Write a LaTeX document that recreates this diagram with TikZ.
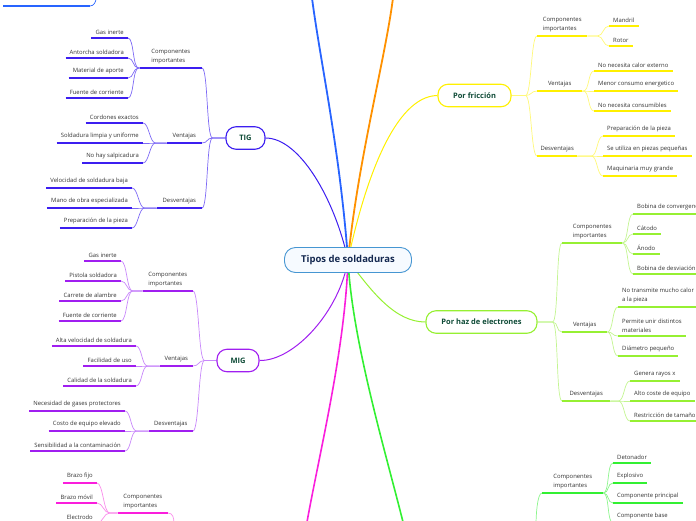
\documentclass[tikz,border=0pt]{standalone}
\usepackage{fontspec}
\setmainfont{Open Sans}
\usetikzlibrary{backgrounds}
\definecolor{tigcol}{RGB}{60,30,240}
\definecolor{tiglt}{RGB}{125,105,245}
\definecolor{migcol}{RGB}{160,30,240}
\definecolor{miglt}{RGB}{200,135,250}
\definecolor{friccol}{RGB}{255,240,0}
\definecolor{friclt}{RGB}{255,248,120}
\definecolor{hazcol}{RGB}{150,240,50}
\definecolor{hazlt}{RGB}{195,245,145}
\definecolor{grncol}{RGB}{50,240,50}
\definecolor{grnlt}{RGB}{140,245,140}
\definecolor{magcol}{RGB}{250,30,220}
\definecolor{maglt}{RGB}{250,140,235}
\definecolor{blucol}{RGB}{40,100,255}
\definecolor{orgcol}{RGB}{255,145,0}
\definecolor{rootcol}{RGB}{70,150,210}
\definecolor{rootfill}{RGB}{246,250,255}
\definecolor{topictext}{RGB}{15,75,55}
\definecolor{roottext}{RGB}{20,40,80}
\begin{document}
\begin{tikzpicture}[x=1pt,y=-1pt,
  root/.style={draw=rootcol,fill=rootfill,line width=.9pt,rounded corners=11pt,
    minimum width=127pt,minimum height=25pt,text=roottext,
    font=\fontsize{9.5}{11}\selectfont\bfseries},
  topic/.style={draw=#1,fill=white,line width=1.1pt,rounded corners=10pt,
    minimum height=22.5pt,text=topictext,font=\fontsize{7.5}{9}\selectfont\bfseries},
  txt/.style={font=\fontsize{5.9}{9}\selectfont,text=black!80,align=left,inner ysep=3.5pt},
  ul/.style={append after command={(\tikzlastnode.south west) edge[draw=#1,line width=1.3pt] (\tikzlastnode.south east)}},
  subl/.style={txt,ul=#1,anchor=south east,inner xsep=0pt},
  subr/.style={txt,ul=#1,anchor=south west,inner xsep=0pt},
  leafl/.style={txt,ul=#1,anchor=south east,inner xsep=4pt},
  leafr/.style={txt,ul=#1,anchor=south west,inner xsep=4pt},
  lk/.style={draw=#1,line width=.7pt},
  lfork/.style={to path={-- ++(-#1,0) .. controls +(-6,0) and +(6,0) .. (\tikztotarget)}},
  rfork/.style={to path={-- ++(#1,0) .. controls +(6,0) and +(-6,0) .. (\tikztotarget)}}]
\useasboundingbox (0,0) rectangle (696,520);
\node[root] (root) at (348,260) {Tipos de soldaduras};
\node[topic=tigcol,minimum width=39pt] (tig) at (245.5,138) {TIG};
\node[topic=migcol,minimum width=42pt] (mig) at (238,360.5) {MIG};
\node[topic=friccol,minimum width=73pt] (fric) at (474.5,95.5) {Por fricción};
\node[topic=hazcol,minimum width=111pt] (haz) at (481.5,322) {Por haz de electrones};
\coordinate (topB) at (312,-2);
\coordinate (topO) at (393,-2);
\coordinate (botM) at (307,522);
\coordinate (botG) at (403,522);
% TIG
\node[subl=tigcol,minimum width=62pt] (tigA) at (202,68) {Componentes\\importantes};
\node[subl=tigcol,minimum width=35pt] (tigB) at (202,143) {Ventajas};
\node[subl=tigcol,minimum width=45pt] (tigC) at (202,208) {Desventajas};
\node[leafl=tigcol] (tigA1) at (128,38) {Gas inerte};
\node[leafl=tigcol] (tigA2) at (128,58) {Antorcha soldadora};
\node[leafl=tigcol] (tigA3) at (128,78) {Material de aporte};
\node[leafl=tigcol] (tigA4) at (128,98) {Fuente de corriente};
\node[leafl=tigcol] (tigB1) at (143,123) {Cordones exactos};
\node[leafl=tigcol] (tigB2) at (143,143) {Soldadura limpia y uniforme};
\node[leafl=tigcol] (tigB3) at (143,163) {No hay salpicadura};
\node[leafl=tigcol] (tigC1) at (132,188) {Velocidad de soldadura baja};
\node[leafl=tigcol] (tigC2) at (132,208) {Mano de obra especializada};
\node[leafl=tigcol] (tigC3) at (132,228) {Preparación de la pieza};
% MIG
\node[subl=migcol,minimum width=50pt] (migA) at (193,291) {Componentes\\importantes};
\node[subl=migcol,minimum width=33pt] (migB) at (193,366) {Ventajas};
\node[subl=migcol,minimum width=44pt] (migC) at (193,431) {Desventajas};
\node[leafl=migcol] (migA1) at (121,261) {Gas inerte};
\node[leafl=migcol] (migA2) at (121,281) {Pistola soldadora};
\node[leafl=migcol] (migA3) at (121,301) {Carrete de alambre};
\node[leafl=migcol] (migA4) at (121,321) {Fuente de corriente};
\node[leafl=migcol] (migB1) at (136,346) {Alta velocidad de soldadura};
\node[leafl=migcol] (migB2) at (136,366) {Facilidad de uso};
\node[leafl=migcol] (migB3) at (136,386) {Calidad de la soldadura};
\node[leafl=migcol] (migC1) at (125,411) {Necesidad de gases protectores};
\node[leafl=migcol] (migC2) at (125,431) {Costo de equipo elevado};
\node[leafl=migcol] (migC3) at (125,451) {Sensibilidad a la contaminación};
% lower left
\node[subl=magcol,minimum width=50pt] (magA) at (168,513) {Componentes\\importantes};
\node[leafl=magcol] (magA1) at (97,483) {Brazo fijo};
\node[leafl=magcol] (magA2) at (97,503) {Brazo móvil};
\node[leafl=magcol] (magA3) at (97,523) {Electrodo};
\coordinate (mag0) at (174,524);
% upper left
\coordinate (blu1) at (3,6);
\coordinate (blu2) at (90,6);
\coordinate (blu0) at (96,-2);
\draw[blucol,line width=1.3pt] (blu1) -- (blu2);
% Por friccion
\node[subr=friccol,minimum width=50pt] (fricA) at (537,36) {Componentes\\importantes};
\node[subr=friccol,minimum width=45pt] (fricB) at (537,91) {Ventajas};
\node[subr=friccol,minimum width=40pt] (fricC) at (537,156) {Desventajas};
\node[leafr=friccol] (fricA1) at (609,26) {Mandril};
\node[leafr=friccol] (fricA2) at (609,46) {Rotor};
\node[leafr=friccol] (fricB1) at (594,71) {No necesita calor externo};
\node[leafr=friccol] (fricB2) at (594,91) {Menor consumo energetico};
\node[leafr=friccol] (fricB3) at (594,111) {No necesita consumibles};
\node[leafr=friccol] (fricC1) at (603,136) {Preparación de la pieza};
\node[leafr=friccol] (fricC2) at (603,156) {Se utiliza en piezas pequeñas};
\node[leafr=friccol] (fricC3) at (603,176) {Maquinaria muy grande};
% Por haz de electrones
\node[subr=hazcol,minimum width=60pt] (hazA) at (562,243) {Componentes\\importantes};
\node[subr=hazcol,minimum width=45pt] (hazB) at (562,332) {Ventajas};
\node[subr=hazcol,minimum width=48pt] (hazC) at (562,401) {Desventajas};
\node[leafr=hazcol] (hazA1) at (633,214) {Bobina de convergencia};
\node[leafr=hazcol] (hazA2) at (633,234) {Cátodo};
\node[leafr=hazcol] (hazA3) at (633,254) {Ánodo};
\node[leafr=hazcol] (hazA4) at (633,274) {Bobina de desviación};
\node[leafr=hazcol] (hazB1) at (618,307) {No transmite mucho calor\\a la pieza};
\node[leafr=hazcol] (hazB2) at (618,336) {Permite unir distintos\\materiales};
\node[leafr=hazcol] (hazB3) at (618,356) {Diámetro pequeño};
\node[leafr=hazcol] (hazC1) at (630,381) {Genera rayos x};
\node[leafr=hazcol] (hazC2) at (630,401) {Alto coste de equipo};
\node[leafr=hazcol] (hazC3) at (630,421) {Restricción de tamaño};
% lower right
\node[subr=grncol,minimum width=61pt] (grnA) at (542,493) {Componentes\\importantes};
\node[leafr=grncol] (grnA1) at (613,463) {Detonador};
\node[leafr=grncol] (grnA2) at (613,483) {Explosivo};
\node[leafr=grncol] (grnA3) at (613,503) {Componente principal};
\node[leafr=grncol] (grnA4) at (613,523) {Componente base};
\coordinate (grn0) at (536,524);
\begin{scope}[on background layer]
\draw[blucol,line width=1.8pt] (root.center) .. controls (340,150) and (320,60) .. (topB);
\draw[orgcol,line width=1.8pt] (root.center) .. controls (358,160) and (385,60) .. (topO);
\draw[magcol,line width=1.6pt] (root.center) .. controls (345,350) and (320,450) .. (botM);
\draw[grncol,line width=1.6pt] (root.center) .. controls (352,340) and (385,450) .. (botG);
\draw[tigcol,line width=1pt] (root.center) .. controls (335,200) and (300,138) .. (tig.east);
\draw[friccol,line width=1pt] (root.center) .. controls (365,180) and (395,96) .. (fric.west);
\draw[migcol,line width=1pt] (root.center) .. controls (340,310) and (295,361) .. (mig.east);
\draw[hazcol,line width=1pt] (root.center) .. controls (372,292) and (395,322) .. (haz.west);
\draw[lk=tiglt] (tig.west) to[lfork=13] (tigA.south east);
\draw[lk=tiglt] (tig.west) to[lfork=13] (tigB.south east);
\draw[lk=tiglt] (tig.west) to[lfork=13] (tigC.south east);
\draw[lk=tiglt] (tigA.south west) to[lfork=1] (tigA1.south east);
\draw[lk=tiglt] (tigA.south west) to[lfork=1] (tigA2.south east);
\draw[lk=tiglt] (tigA.south west) to[lfork=1] (tigA3.south east);
\draw[lk=tiglt] (tigA.south west) to[lfork=1] (tigA4.south east);
\draw[lk=tiglt] (tigB.south west) to[lfork=11] (tigB1.south east);
\draw[lk=tiglt] (tigB.south west) to[lfork=11] (tigB2.south east);
\draw[lk=tiglt] (tigB.south west) to[lfork=11] (tigB3.south east);
\draw[lk=tiglt] (tigC.south west) to[lfork=12] (tigC1.south east);
\draw[lk=tiglt] (tigC.south west) to[lfork=12] (tigC2.south east);
\draw[lk=tiglt] (tigC.south west) to[lfork=12] (tigC3.south east);
\draw[lk=miglt] (mig.west) to[lfork=12] (migA.south east);
\draw[lk=miglt] (mig.west) to[lfork=12] (migB.south east);
\draw[lk=miglt] (mig.west) to[lfork=12] (migC.south east);
\draw[lk=miglt] (migA.south west) to[lfork=10] (migA1.south east);
\draw[lk=miglt] (migA.south west) to[lfork=10] (migA2.south east);
\draw[lk=miglt] (migA.south west) to[lfork=10] (migA3.south east);
\draw[lk=miglt] (migA.south west) to[lfork=10] (migA4.south east);
\draw[lk=miglt] (migB.south west) to[lfork=12] (migB1.south east);
\draw[lk=miglt] (migB.south west) to[lfork=12] (migB2.south east);
\draw[lk=miglt] (migB.south west) to[lfork=12] (migB3.south east);
\draw[lk=miglt] (migC.south west) to[lfork=12] (migC1.south east);
\draw[lk=miglt] (migC.south west) to[lfork=12] (migC2.south east);
\draw[lk=miglt] (migC.south west) to[lfork=12] (migC3.south east);
\draw[lk=maglt] (magA.south west) to[lfork=8] (magA1.south east);
\draw[lk=maglt] (magA.south west) to[lfork=8] (magA2.south east);
\draw[lk=maglt] (magA.south west) to[lfork=8] (magA3.south east);
\draw[lk=maglt] (magA.south east) .. controls +(5,0) and +(0,-6) .. (mag0);
\draw[lk=blucol] (blu2) .. controls +(4,0) and +(0,4) .. (blu0);
\draw[lk=friclt] (fric.east) to[rfork=14] (fricA.south west);
\draw[lk=friclt] (fric.east) to[rfork=14] (fricB.south west);
\draw[lk=friclt] (fric.east) to[rfork=14] (fricC.south west);
\draw[lk=friclt] (fricA.south east) to[rfork=10] (fricA1.south west);
\draw[lk=friclt] (fricA.south east) to[rfork=10] (fricA2.south west);
\draw[lk=friclt] (fricB.south east) to[rfork=1] (fricB1.south west);
\draw[lk=friclt] (fricB.south east) to[rfork=1] (fricB2.south west);
\draw[lk=friclt] (fricB.south east) to[rfork=1] (fricB3.south west);
\draw[lk=friclt] (fricC.south east) to[rfork=14] (fricC1.south west);
\draw[lk=friclt] (fricC.south east) to[rfork=14] (fricC2.south west);
\draw[lk=friclt] (fricC.south east) to[rfork=14] (fricC3.south west);
\draw[lk=hazlt] (haz.east) to[rfork=15] (hazA.south west);
\draw[lk=hazlt] (haz.east) to[rfork=15] (hazB.south west);
\draw[lk=hazlt] (haz.east) to[rfork=15] (hazC.south west);
\draw[lk=hazlt] (hazA.south east) to[rfork=0] (hazA1.south west);
\draw[lk=hazlt] (hazA.south east) to[rfork=0] (hazA2.south west);
\draw[lk=hazlt] (hazA.south east) to[rfork=0] (hazA3.south west);
\draw[lk=hazlt] (hazA.south east) to[rfork=0] (hazA4.south west);
\draw[lk=hazlt] (hazB.south east) to[rfork=0] (hazB1.south west);
\draw[lk=hazlt] (hazB.south east) to[rfork=0] (hazB2.south west);
\draw[lk=hazlt] (hazB.south east) to[rfork=0] (hazB3.south west);
\draw[lk=hazlt] (hazC.south east) to[rfork=8] (hazC1.south west);
\draw[lk=hazlt] (hazC.south east) to[rfork=8] (hazC2.south west);
\draw[lk=hazlt] (hazC.south east) to[rfork=8] (hazC3.south west);
\draw[lk=grnlt] (grnA.south east) to[rfork=0] (grnA1.south west);
\draw[lk=grnlt] (grnA.south east) to[rfork=0] (grnA2.south west);
\draw[lk=grnlt] (grnA.south east) to[rfork=0] (grnA3.south west);
\draw[lk=grnlt] (grnA.south east) to[rfork=0] (grnA4.south west);
\draw[lk=grnlt] (grnA.south west) .. controls +(-5,0) and +(0,-6) .. (grn0);
\end{scope}
\end{tikzpicture}
\end{document}
